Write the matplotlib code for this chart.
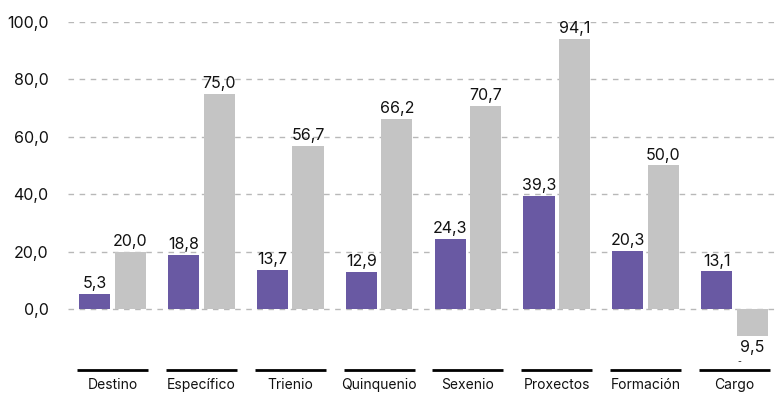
import numpy as np
import matplotlib.pyplot as plt

plt.rcParams['font.family'] = ['Inter', 'DejaVu Sans']

categories = ['Destino', 'Específico', 'Trienio', 'Quinquenio', 'Sexenio',
              'Proxectos', 'Formación', 'Cargo']
serie_a = [5.3, 18.8, 13.7, 12.9, 24.3, 39.3, 20.3, 13.1]
serie_b = [20.0, 75.0, 56.7, 66.2, 70.7, 94.1, 50.0, -9.5]
yticks = [0, 20, 40, 60, 80, 100]

purple = '#6959a3'
grey = '#c4c4c4'

def fmt(v):
    return f"{v:.1f}".replace('.', ',')

fig = plt.figure(figsize=(7.79, 3.94), dpi=100)
ax = fig.add_axes([68 / 779, 1 - 370 / 394, 1 - 68 / 779, (370 - 22) / 394])

x = np.arange(len(categories))
w = 0.35
ax.bar(x - 0.2, serie_a, w, color=purple, zorder=2)
ax.bar(x + 0.2, serie_b, w, color=grey, zorder=2)

for xi, a, b in zip(x, serie_a, serie_b):
    for xx, v in ((xi - 0.2, a), (xi + 0.2, b)):
        if v >= 0:
            ax.annotate(fmt(v), (xx, v), xytext=(0, 2), textcoords='offset points',
                        ha='center', va='bottom', fontsize=11.5, color='#111111')
        else:
            ax.annotate(fmt(abs(v)), (xx, v), xytext=(0, -3), textcoords='offset points',
                        ha='center', va='top', fontsize=11.5, color='#111111')
            ax.annotate('-', (xx, v), xytext=(-9, -15), textcoords='offset points',
                        ha='center', va='top', fontsize=6, color='#111111')

ax.set_ylim(-21.3, 100)
ax.set_xlim(-0.5, len(categories) - 0.5)
ax.set_yticks(yticks)
ax.set_yticklabels([fmt(t) for t in yticks], fontsize=11.5, color='#111111')
ax.tick_params(axis='y', length=0, pad=14)
ax.set_xticks(x)
ax.set_xticklabels(categories, fontsize=10, color='#111111')
ax.tick_params(axis='x', length=0, pad=6)

for t in yticks:
    ax.axhline(t, color='#b8b8b8', lw=1, ls=(0, (4, 4)), zorder=1)

# black underline under each category
for xi in x:
    ax.plot([xi - 0.4, xi + 0.4], [-21.3, -21.3], color='black', lw=2,
            solid_capstyle='butt', clip_on=False)

for s in ax.spines.values():
    s.set_visible(False)

fig.savefig('out.png', dpi=100)
